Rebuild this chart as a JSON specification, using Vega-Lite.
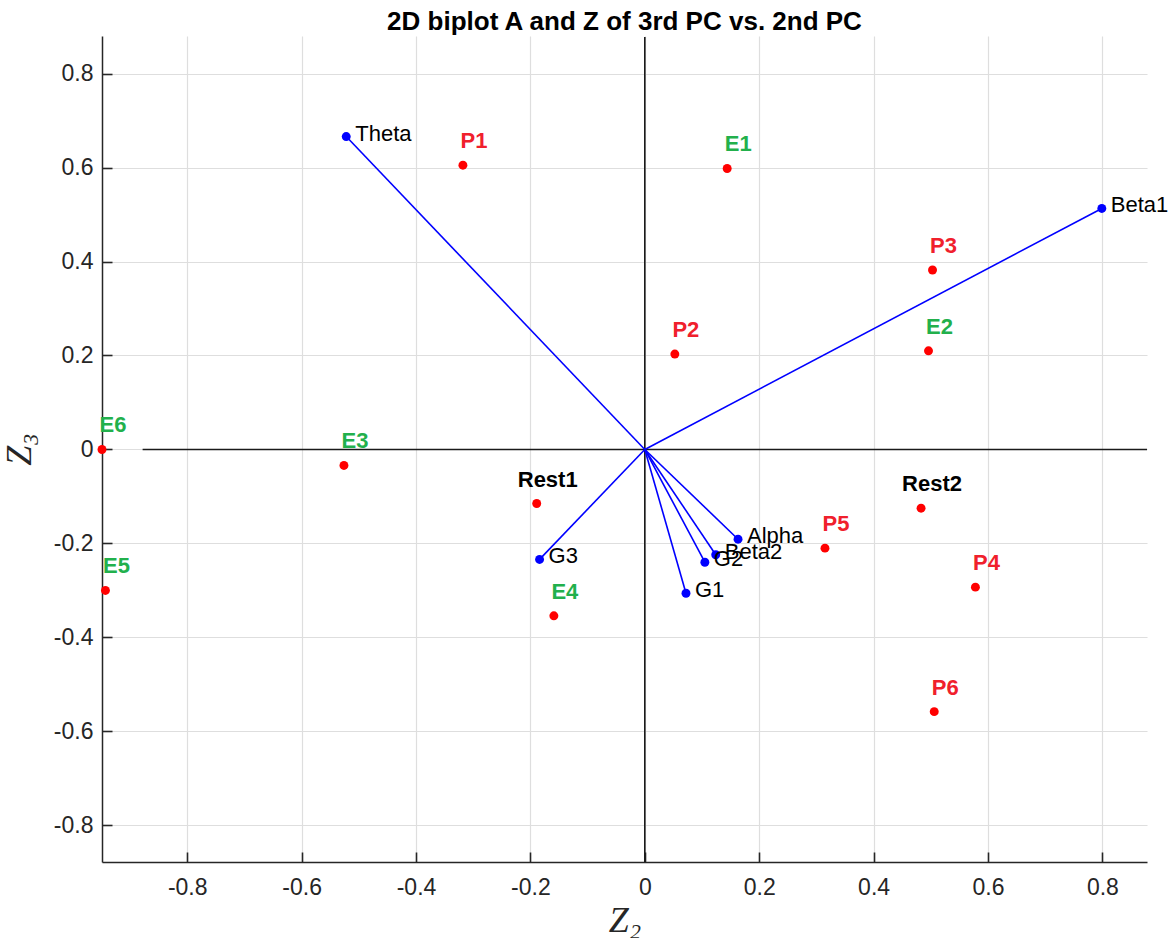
{
  "$schema": "https://vega.github.io/schema/vega-lite/v6.json",
  "width": 1045,
  "height": 826,
  "autosize": {"type": "none"},
  "padding": {"left": 102, "top": 36, "right": 26, "bottom": 76},
  "background": "white",
  "config": {
    "view": {"stroke": null},
    "font": "Liberation Sans",
    "axis": {
      "domainColor": "#262626",
      "domainWidth": 1.5,
      "tickColor": "#262626",
      "tickWidth": 1.6,
      "tickSize": -10,
      "gridColor": "#dedede",
      "gridWidth": 1.2,
      "labelFont": "Liberation Sans",
      "labelFontSize": 23,
      "labelColor": "#262626",
      "titleFont": "Liberation Serif",
      "titleFontStyle": "italic",
      "titleFontWeight": "normal",
      "titleFontSize": 36,
      "titleColor": "#262626"
    }
  },
  "title": {
    "text": "2D biplot A and Z of 3rd PC vs. 2nd PC",
    "font": "Liberation Sans",
    "fontSize": 26,
    "fontWeight": "bold",
    "color": "#000000",
    "anchor": "middle",
    "frame": "group",
    "baseline": "bottom",
    "offset": 3,
    "dy": 28
  },
  "datasets": {
    "zero": [
      {"x": -0.878, "x2": 0.878, "y": 0, "y2": 0},
      {"x": 0, "x2": 0, "y": -0.878, "y2": 0.878}
    ],
    "loadings": [
      {"name": "Theta", "z2": -0.522, "z3": 0.666},
      {"name": "Beta1", "z2": 0.799, "z3": 0.513},
      {"name": "Alpha", "z2": 0.163, "z3": -0.191},
      {"name": "Beta2", "z2": 0.124, "z3": -0.224},
      {"name": "G2", "z2": 0.105, "z3": -0.240},
      {"name": "G1", "z2": 0.072, "z3": -0.306},
      {"name": "G3", "z2": -0.184, "z3": -0.234}
    ],
    "scores": [
      {"name": "P1", "group": "P", "z2": -0.318, "z3": 0.605},
      {"name": "E1", "group": "E", "z2": 0.144, "z3": 0.598},
      {"name": "P3", "group": "P", "z2": 0.503, "z3": 0.382},
      {"name": "E2", "group": "E", "z2": 0.496, "z3": 0.210},
      {"name": "P2", "group": "P", "z2": 0.0525, "z3": 0.203},
      {"name": "E6", "group": "E", "z2": -0.949, "z3": 0.0},
      {"name": "E3", "group": "E", "z2": -0.526, "z3": -0.034},
      {"name": "E5", "group": "E", "z2": -0.943, "z3": -0.300},
      {"name": "Rest1", "group": "Rest", "z2": -0.189, "z3": -0.115},
      {"name": "E4", "group": "E", "z2": -0.159, "z3": -0.354},
      {"name": "Rest2", "group": "Rest", "z2": 0.483, "z3": -0.125},
      {"name": "P4", "group": "P", "z2": 0.578, "z3": -0.293},
      {"name": "P6", "group": "P", "z2": 0.506, "z3": -0.558},
      {"name": "P5", "group": "P", "z2": 0.315, "z3": -0.210}
    ]
  },
  "encoding": {
    "x": {
      "type": "quantitative",
      "scale": {"domain": [-0.949, 0.878], "nice": false, "zero": false},
      "axis": {
        "title": "Z₂",
        "values": [-0.8, -0.6, -0.4, -0.2, 0, 0.2, 0.4, 0.6, 0.8],
        "format": "~g",
        "labelExpr": "replace(datum.label, '−', '-')",
        "labelPadding": 24,
        "titlePadding": 4
      }
    },
    "y": {
      "type": "quantitative",
      "scale": {"domain": [-0.878, 0.88], "nice": false, "zero": false},
      "axis": {
        "title": "Z₃",
        "values": [-0.8, -0.6, -0.4, -0.2, 0, 0.2, 0.4, 0.6, 0.8],
        "format": "~g",
        "labelExpr": "replace(datum.label, '−', '-')",
        "labelPadding": 19,
        "titlePadding": 15
      }
    }
  },
  "layer": [
    {
      "data": {"name": "zero"},
      "mark": {"type": "rule", "color": "#1a1a1a", "strokeWidth": 1.6},
      "encoding": {
        "x": {"field": "x", "type": "quantitative"},
        "x2": {"field": "x2"},
        "y": {"field": "y", "type": "quantitative"},
        "y2": {"field": "y2"}
      }
    },
    {
      "data": {"name": "loadings"},
      "mark": {"type": "rule", "color": "#0000ff", "strokeWidth": 1.6},
      "encoding": {
        "x": {"field": "z2", "type": "quantitative"},
        "x2": {"datum": 0},
        "y": {"field": "z3", "type": "quantitative"},
        "y2": {"datum": 0}
      }
    },
    {
      "data": {"name": "loadings"},
      "mark": {"type": "point", "filled": true, "shape": "circle", "size": 80, "color": "#0000ff", "opacity": 1},
      "encoding": {
        "x": {"field": "z2", "type": "quantitative"},
        "y": {"field": "z3", "type": "quantitative"}
      }
    },
    {
      "data": {"name": "loadings"},
      "mark": {"type": "text", "align": "left", "baseline": "middle", "dx": 9, "dy": -3, "fontSize": 22, "font": "Liberation Sans", "color": "#000000"},
      "encoding": {
        "x": {"field": "z2", "type": "quantitative"},
        "y": {"field": "z3", "type": "quantitative"},
        "text": {"field": "name"}
      }
    },
    {
      "data": {"name": "scores"},
      "mark": {"type": "point", "filled": true, "shape": "circle", "size": 80, "color": "#ff0000", "opacity": 1},
      "encoding": {
        "x": {"field": "z2", "type": "quantitative"},
        "y": {"field": "z3", "type": "quantitative"}
      }
    },
    {
      "data": {"name": "scores"},
      "mark": {"type": "text", "align": "center", "baseline": "alphabetic", "dx": 11, "dy": -17, "fontSize": 22, "fontWeight": "bold", "font": "Liberation Sans"},
      "encoding": {
        "x": {"field": "z2", "type": "quantitative"},
        "y": {"field": "z3", "type": "quantitative"},
        "text": {"field": "name"},
        "color": {
          "field": "group",
          "type": "nominal",
          "scale": {"domain": ["P", "E", "Rest"], "range": ["#f0202c", "#22b04c", "#000000"]},
          "legend": null
        }
      }
    }
  ]
}
